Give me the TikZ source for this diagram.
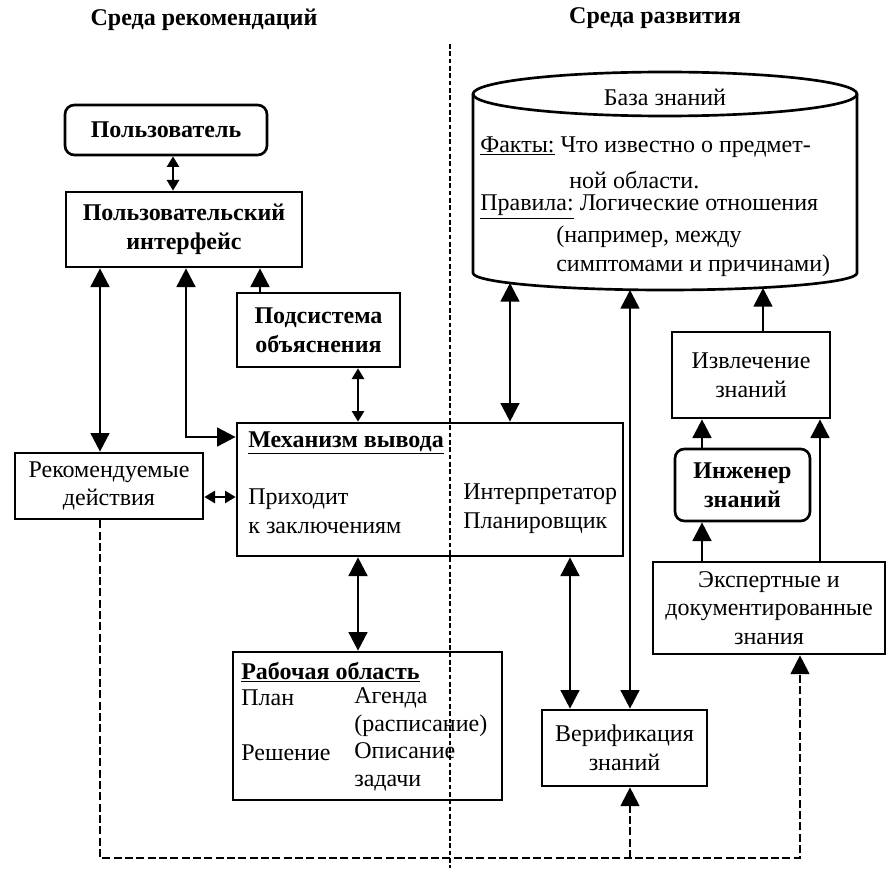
\documentclass[tikz,border=0pt]{standalone}
\usepackage{fontspec}
\setmainfont{Liberation Serif}
\usetikzlibrary{arrows.meta}
\newcommand{\fs}{\fontsize{18}{21.5}\selectfont}
\tikzset{every picture/.style={line width=2pt}}
\tikzset{
  blk/.style={draw, rectangle, inner sep=0pt, align=center, font=\fs},
  rblk/.style={blk, rounded corners=7pt},
  txt/.style={inner sep=0pt, anchor=west, align=left, font=\fs},
  bigarr/.style={arrows={Triangle[length=14pt,width=14pt]}-{Triangle[length=14pt,width=14pt]}},
  uparr/.style={arrows=-{Triangle[length=14pt,width=14pt]}},
  smallarr/.style={arrows={Triangle[length=8pt,width=9pt]}-{Triangle[length=8pt,width=9pt]}},
  dline/.style={line width=1.6pt, dash pattern=on 6pt off 2.5pt},
}

\begin{document}
\begin{tikzpicture}[x=0.75pt,y=0.75pt,yscale=-1,xscale=1]
\useasboundingbox (0,0) rectangle (889,870);

% Text Node
\draw (204,20) node [font=\fs\bfseries] (trec) {Среда рекомендаций};
% Text Node
\draw (655,18) node [font=\fs\bfseries] (tdev) {Среда развития};

%Straight Lines [divider]
\draw [line width=1.3pt, dash pattern=on 3.5pt off 2pt] (450,44) -- (450,868);

%Shape: Rectangle [user side]
\node [rblk, font=\fs\bfseries, minimum width=151.5pt, minimum height=37.5pt] (user) at (166,130) {Пользователь};
\node [blk, font=\fs\bfseries, minimum width=177pt, minimum height=56.25pt] (ui) at (184,229.5) {Пользовательский\\интерфейс};
\node [blk, font=\fs\bfseries, minimum width=122.25pt, minimum height=55.5pt] (expl) at (318.5,330) {Подсистема\\объяснения};
\node [blk, minimum width=141pt, minimum height=49.5pt] (rec) at (109,486) {Рекомендуемые\\действия};
\node [blk, minimum width=289.5pt, minimum height=99.75pt] (infer) at (430,489.5) {};
\node [blk, minimum width=201.75pt, minimum height=111pt] (work) at (367.5,726) {};

%Shape: Rectangle [development side]
\node [blk, minimum width=118.5pt, minimum height=64.5pt] (extr) at (751,375) {Извлечение\\знаний};
\node [rblk, font=\fs\bfseries, minimum width=101.25pt, minimum height=54pt] (eng) at (742.5,485) {Инженер\\знаний};
\node [blk, minimum width=174pt, minimum height=69pt] (expert) at (769,608) {Экспертные и\\документированные\\знания};
\node [blk, minimum width=123.75pt, minimum height=57pt] (verif) at (624.5,748) {Верификация\\знаний};

%Shape: Can [knowledge base]
\draw (473,94) -- (473,273) arc [start angle=180, end angle=0, x radius=192, y radius=17] -- (857,94);
\draw (665,94) ellipse [x radius=192, y radius=22];
\coordinate (kb1) at (510,283);
\coordinate (kb2) at (630,290);
\coordinate (kb3) at (763,288);

% Text Node
\node [font=\fs] (kbt) at (665,97) {База знаний};
\node [txt] (kbf) at (479,147) {\underline{Факты:} Что известно о предмет-};
\node [txt] (kbf2) at (568,180) {ной области.};
\node [txt] (kbr) at (479,207) {\underline{Правила:} Логические отношения};
\node [txt] (kbr2) at (555,251) {(например, между\\симптомами и причинами)};

% Text Node
\node [txt, font=\fs\bfseries] (infh) at (247,443) {\underline{Механизм вывода}};
\node [txt] (inf1) at (247,511) {Приходит\\к заключениям};
\node [txt] (inf2) at (462,509) {Интерпретатор\\Планировщик};

% Text Node
\node [txt, font=\fs\bfseries] (wh) at (240,672) {\underline{Рабочая область}};
\node [txt] (wp) at (240,698) {План};
\node [txt] (wa) at (353,712) {Агенда\\(расписание)};
\node [txt] (ws) at (240,753) {Решение};
\node [txt] (wd) at (353,767) {Описание\\задачи};

%Straight Lines [columns and rows]
\coordinate (c1) at (173,0);
\coordinate (c2) at (100,0);
\coordinate (c3) at (186,0);
\coordinate (c4) at (260,0);
\coordinate (c5) at (358,0);
\coordinate (c8) at (570,0);
\coordinate (c10) at (702,0);
\coordinate (c11) at (820,0);
\coordinate (c12) at (800,0);
\coordinate (r1) at (0,437);
\coordinate (r2) at (0,497);
\coordinate (r3) at (0,858);

\draw [smallarr] (user.south -| c1) -- (ui.north -| c1);
\draw [bigarr] (ui.south -| c2) -- (rec.north -| c2);
\draw [bigarr] (ui.south -| c3) |- (infer.west |- r1);
\draw [uparr] (expl.north -| c4) -- (ui.south -| c4);
\draw [smallarr] (expl.south -| c5) -- (infer.north -| c5);
\draw [smallarr] (rec.east |- r2) -- (infer.west |- r2);
\draw [bigarr] (infer.south -| c5) -- (work.north -| c5);
\draw [bigarr] (kb1) -- (infer.north -| kb1);
\draw [bigarr] (kb2) -- (verif.north -| kb2);
\draw [bigarr] (infer.south -| c8) -- (verif.north -| c8);
\draw [uparr] (extr.north -| kb3) -- (kb3);
\draw [uparr] (eng.north -| c10) -- (extr.south -| c10);
\draw [uparr] (expert.north -| c10) -- (eng.south -| c10);
\draw [uparr] (expert.north -| c11) -- (extr.south -| c11);

%Dashed Lines [feedback]
\draw [dline, uparr] (rec.south -| c2) -- (c2 |- r3) -| (expert.south -| c12);
\draw [dline, uparr] (kb2 |- r3) -- (verif.south -| kb2);

\end{tikzpicture}
\end{document}
